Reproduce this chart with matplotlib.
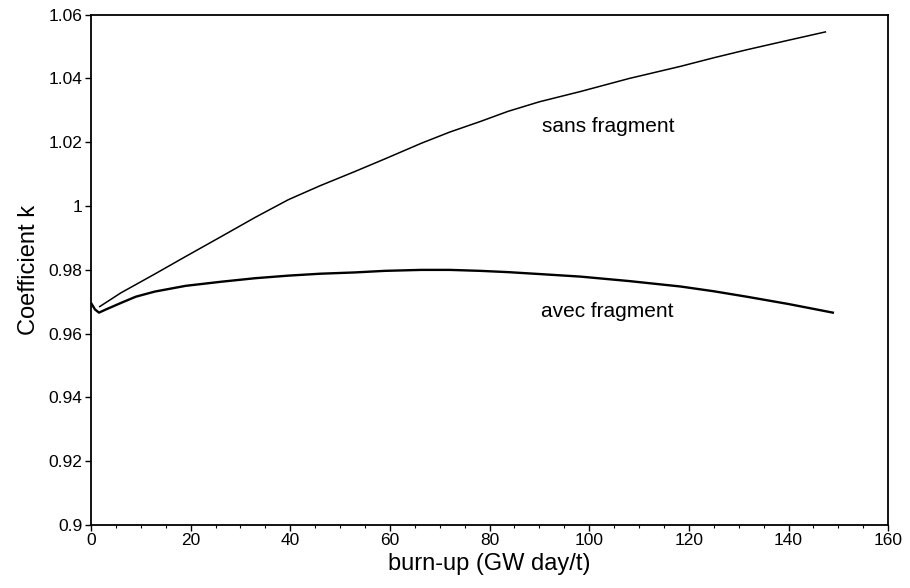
import matplotlib
matplotlib.use("Agg")
import matplotlib.pyplot as plt
from matplotlib.ticker import MultipleLocator

plt.rcParams['font.family'] = ['Liberation Sans', 'DejaVu Sans']

# courbe sans fragment
burnup_sans = [1.75, 6.0, 12.8, 19.0, 26.2, 33.0, 39.6, 46.0, 52.9, 59.0, 66.3, 72.0, 78.1, 83.7,
               90.0, 98.2, 108.0, 118.3, 125.0, 131.6, 140.0, 147.4]
k_sans = [0.9685, 0.9728, 0.9787, 0.9842, 0.9905, 0.9965, 1.0020, 1.0064, 1.0108, 1.0148, 1.0197,
          1.0232, 1.0265, 1.0297, 1.0327, 1.0359, 1.0400, 1.0438, 1.0465, 1.0490, 1.0520, 1.0546]

# courbe avec fragment
burnup_avec = [0.1, 0.8, 1.6, 3.0, 6.1, 9.0, 12.8, 19.0, 26.2, 33.0, 39.6, 46.0, 52.9, 59.0, 66.3,
               72.0, 78.1, 83.7, 90.0, 98.2, 108.0, 118.3, 125.0, 131.6, 140.0, 148.9]
k_avec = [0.9694, 0.9676, 0.9666, 0.9676, 0.9697, 0.9716, 0.9732, 0.9750, 0.9763, 0.9774, 0.9782,
          0.9788, 0.9792, 0.9797, 0.9800, 0.9800, 0.9797, 0.9793, 0.9787, 0.9779, 0.9765, 0.9748,
          0.9733, 0.9716, 0.9693, 0.9666]

xticks = [0, 20, 40, 60, 80, 100, 120, 140, 160]
yticks = [0.9, 0.92, 0.94, 0.96, 0.98, 1.0, 1.02, 1.04, 1.06]
ytick_labels = ["0.9", "0.92", "0.94", "0.96", "0.98", "1", "1.02", "1.04", "1.06"]

fig = plt.figure(figsize=(9.1, 5.88), dpi=100)
ax = fig.add_axes([0.1, 0.107, 0.876, 0.868])

ax.plot(burnup_sans, k_sans, color="black", lw=1.1)
ax.plot(burnup_avec, k_avec, color="black", lw=1.7)

ax.text(90.6, 1.025, "sans fragment", fontsize=15, ha="left", va="center")
ax.text(90.4, 0.9669, "avec fragment", fontsize=15, ha="left", va="center")

ax.set_xlim(0, 160)
ax.set_ylim(0.9, 1.06)
ax.set_xticks(xticks)
ax.set_yticks(yticks)
ax.set_yticklabels(ytick_labels)
ax.xaxis.set_minor_locator(MultipleLocator(5))
ax.tick_params(axis="both", which="major", direction="out", length=4, width=1,
               labelsize=12.5, pad=2, top=False, right=False)
ax.tick_params(axis="x", which="minor", direction="out", length=2, width=0.8)

for s in ax.spines.values():
    s.set_linewidth(1.3)

ax.set_xlabel("burn-up (GW day/t)", fontsize=17, labelpad=3)
ax.set_ylabel("Coefficient k", fontsize=17, labelpad=6)

fig.savefig("out.png", dpi=100)
